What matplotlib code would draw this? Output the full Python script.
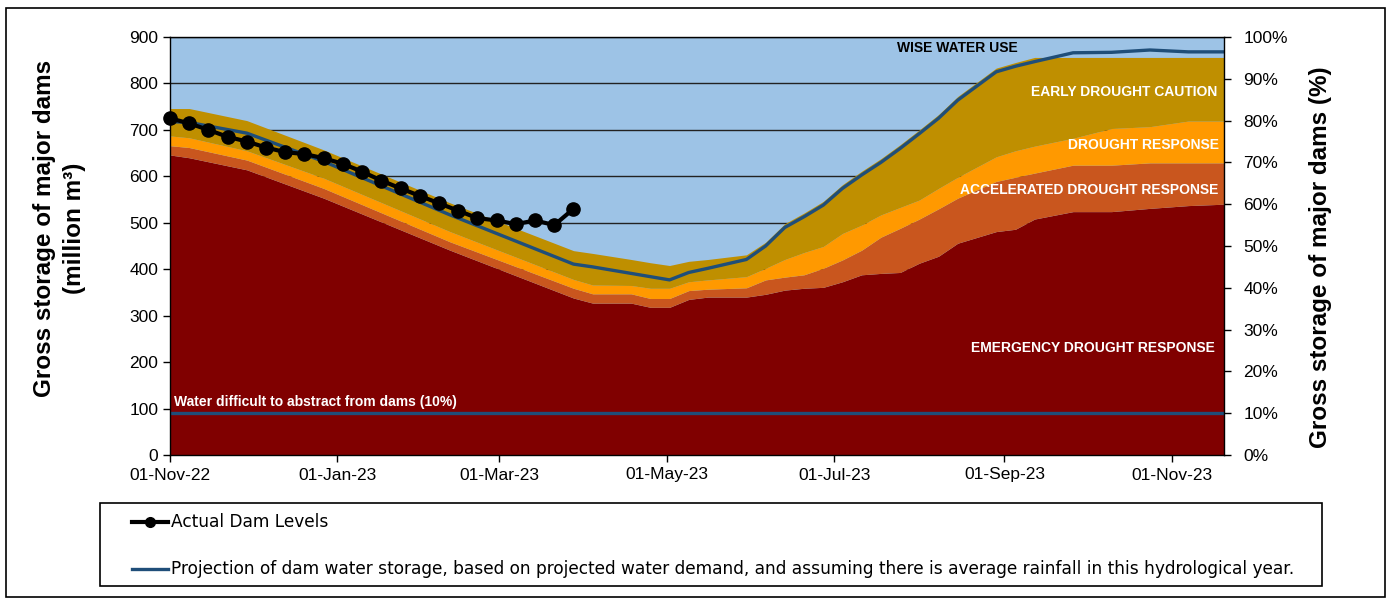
import matplotlib
matplotlib.use("Agg")
import matplotlib.pyplot as plt
import matplotlib.dates as mdates
import numpy as np
import pandas as pd
from matplotlib.lines import Line2D
from matplotlib.patches import Rectangle
from matplotlib.ticker import MultipleLocator, FuncFormatter

plt.rcParams['font.family'] = ['Liberation Sans', 'DejaVu Sans']

# ---------------- data ----------------
actual_dates = ["2022-11-01", "2022-11-08", "2022-11-15", "2022-11-22", "2022-11-29",
                "2022-12-06", "2022-12-13", "2022-12-20", "2022-12-27", "2023-01-03",
                "2023-01-10", "2023-01-17", "2023-01-24", "2023-01-31", "2023-02-07",
                "2023-02-14", "2023-02-21", "2023-02-28", "2023-03-07", "2023-03-14",
                "2023-03-21", "2023-03-28"]
actual_levels = [725, 714, 700, 685, 675, 662, 652, 648, 639, 627, 610,
                 591, 574, 558, 542, 526, 510, 505, 497, 505, 495, 530]

band_dates = ["2022-11-01", "2022-11-08", "2022-11-29", "2022-12-27", "2023-02-11",
              "2023-03-28", "2023-04-04", "2023-04-18", "2023-04-25", "2023-05-02",
              "2023-05-09", "2023-05-16", "2023-05-30", "2023-06-06", "2023-06-13",
              "2023-06-20", "2023-06-27", "2023-07-04", "2023-07-11", "2023-07-18",
              "2023-07-25", "2023-08-01", "2023-08-08", "2023-08-15", "2023-08-29",
              "2023-09-05", "2023-09-12", "2023-09-26", "2023-10-10", "2023-10-24",
              "2023-11-07", "2023-11-20"]
emergency_top = [646, 640, 614, 553, 441, 338, 327, 327, 318, 318, 335, 340, 340, 346, 355, 359,
                 361, 373, 388, 391, 393, 413, 428, 456, 481, 486, 508, 524, 524, 531, 537, 540]
accelerated_top = [666, 662, 635, 574, 459, 359, 347, 347, 337, 337, 354, 357, 360, 377, 383, 388,
                   402, 420, 441, 469, 488, 508, 530, 553, 589, 598, 607, 624, 624, 629, 629, 629]
drought_top = [687, 683, 655, 596, 481, 378, 366, 365, 359, 359, 373, 377, 384, 402, 421, 436,
               449, 477, 495, 517, 533, 549, 574, 598, 642, 655, 665, 682, 703, 707, 719, 719]
caution_top = [746, 746, 720, 657, 543, 440, 434, 421, 414, 408, 417, 421, 431, 458, 498, 521,
               546, 582, 611, 638, 668, 700, 733, 772, 833, 845, 856, 856, 856, 856, 856, 856]
projection = [718, 716, 693, 632, 517, 411, 405, 391, 384, 377, 393, 402, 421, 450, 490, 513,
              538, 574, 603, 630, 660, 692, 725, 764, 825, 837, 847, 866, 867, 872, 868, 868]

difficult_level = 90          # 10% of capacity
x_start, x_end = "2022-11-01", "2023-11-20"
tick_dates = ["2022-11-01", "2023-01-01", "2023-03-01", "2023-05-01",
              "2023-07-01", "2023-09-01", "2023-11-01"]
tick_labels = ["01-Nov-22", "01-Jan-23", "01-Mar-23", "01-May-23",
               "01-Jul-23", "01-Sep-23", "01-Nov-23"]

# ---------------- style ----------------
C_SKY = "#9DC3E6"
C_GOLD = "#BF8F00"
C_ORANGE = "#FF9900"
C_RUST = "#C9561E"
C_MAROON = "#800000"
C_NAVY = "#1F4E79"

fig = plt.figure(figsize=(13.9, 6.0), dpi=100)
W, H = 1390, 600
def fx(px): return px / W
def fy(py): return 1 - py / H

ax = fig.add_axes([fx(170), fy(455), (1224 - 170) / W, (455 - 37) / H])
ax.set_facecolor(C_SKY)

bd = pd.to_datetime(band_dates)
ad = pd.to_datetime(actual_dates)

ax.fill_between(bd, 0, emergency_top, color=C_MAROON, lw=0, zorder=1)
ax.fill_between(bd, emergency_top, accelerated_top, color=C_RUST, lw=0, zorder=1)
ax.fill_between(bd, accelerated_top, drought_top, color=C_ORANGE, lw=0, zorder=1)
ax.fill_between(bd, drought_top, caution_top, color=C_GOLD, lw=0, zorder=1)

ax.axhline(difficult_level, color=C_NAVY, lw=2.4, zorder=3)
ax.plot(bd, projection, color=C_NAVY, lw=2.4, zorder=4)
ax.plot(ad, actual_levels, color='black', lw=3, marker='o', ms=9.5, zorder=5, clip_on=False)

ax.set_xlim(pd.Timestamp(x_start), pd.Timestamp(x_end))
ax.set_ylim(0, 900)
ax.yaxis.set_major_locator(MultipleLocator(100))
ax.yaxis.grid(True, color='#222222', lw=1.0)
ax.set_axisbelow(True)
ax.set_xticks(pd.to_datetime(tick_dates))
ax.set_xticklabels(tick_labels)
ax.tick_params(axis='both', direction='out', length=5, width=1, labelsize=12.5, colors='black')
ax.tick_params(axis='x', pad=4)
for s in ax.spines.values():
    s.set_color('black'); s.set_linewidth(1.0); s.set_zorder(6)

ax2 = ax.twinx()
ax2.set_ylim(0, 100)
ax2.yaxis.set_major_locator(MultipleLocator(10))
ax2.yaxis.set_major_formatter(FuncFormatter(lambda v, p: f"{int(round(v))}%"))
ax2.tick_params(axis='y', direction='out', length=5, width=1, labelsize=12.5, pad=9)
for s in ax2.spines.values():
    s.set_visible(False)

# zone labels
tb = dict(fontsize=10, fontweight='bold', transform=ax.transAxes, zorder=7)
ax.text(0.7467, 0.9737, "WISE WATER USE", color='black', ha='center', va='center', **tb)
ax.text(0.9934, 0.8684, "EARLY DROUGHT CAUTION", color='white', ha='right', va='center', **tb)
ax.text(0.9953, 0.7416, "DROUGHT RESPONSE", color='white', ha='right', va='center', **tb)
ax.text(0.9943, 0.634, "ACCELERATED DROUGHT RESPONSE", color='white', ha='right', va='center', **tb)
ax.text(0.9915, 0.256, "EMERGENCY DROUGHT RESPONSE", color='white', ha='right', va='center', **tb)
ax.text(0.0038, 0.1268, "Water difficult to abstract from dams (10%)", color='white',
        ha='left', va='center', **tb)

# axis titles (two separate lines for the left one)
fig.text(fx(45), fy(228), "Gross storage of major dams", rotation=90,
         ha='center', va='center', fontsize=17.5, fontweight='bold')
fig.text(fx(75), fy(228), "(million m³)", rotation=90,
         ha='center', va='center', fontsize=17.5, fontweight='bold')
fig.text(fx(1321), fy(257), "Gross storage of major dams (%)", rotation=90,
         ha='center', va='center', fontsize=17.5, fontweight='bold')

# legend box
fig.add_artist(Rectangle((fx(100), fy(586)), fx(1322) - fx(100), fy(503) - fy(586),
                         transform=fig.transFigure, fill=False, ec='black', lw=1.2))
fig.add_artist(Line2D([fx(132), fx(168)], [fy(522), fy(522)], transform=fig.transFigure,
                      color='black', lw=3, marker=None))
fig.add_artist(Line2D([fx(150)], [fy(522)], transform=fig.transFigure,
                      color='black', marker='o', ms=7, lw=0))
fig.add_artist(Line2D([fx(132), fx(168)], [fy(569), fy(569)], transform=fig.transFigure,
                      color=C_NAVY, lw=2.4))
lf = dict(fontsize=12.25, family=['DejaVu Sans'], ha='left', va='center')
fig.text(fx(171), fy(522), "Actual Dam Levels", **lf)
fig.text(fx(171), fy(569), "Projection of dam water storage, based on projected water demand, "
         "and assuming there is average rainfall in this hydrological year.", **lf)

# outer border
fig.add_artist(Rectangle((fx(6), fy(597)), fx(1385) - fx(6), fy(8) - fy(597),
                         transform=fig.transFigure, fill=False, ec='black', lw=1.2))

fig.savefig("out.png", dpi=100)
